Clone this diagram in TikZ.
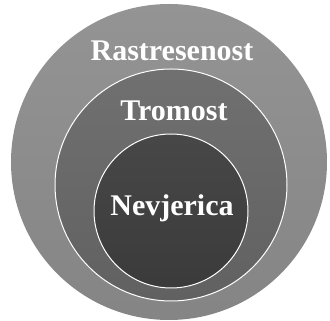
\documentclass[tikz,border=0pt]{standalone}
\usepackage{fontspec}
\setmainfont{Liberation Serif}
\begin{document}
\begin{tikzpicture}[x=1pt,y=1pt,
  ring/.style={circle,inner sep=0pt,minimum size=#1},
  lbl/.style={text=white,font=\fontsize{30}{32}\selectfont\bfseries,anchor=base}]
\useasboundingbox (0,0) rectangle (330,321);
\node[ring=316pt,top color=black!42,bottom color=black!48] (outer) at (169,159) {};
\node[ring=232pt,draw=white,line width=1pt,top color=black!56,bottom color=black!62] (middle) at (171,136) {};
\node[ring=154pt,draw=white,line width=1pt,top color=black!72,bottom color=black!77] (inner) at (171,110) {};
\node[lbl] (t1) at (172,260) {Rastresenost};
\node[lbl] (t2) at (174,200) {Tromost};
\node[lbl] (t3) at (172,105) {Nevjerica};
\end{tikzpicture}
\end{document}
